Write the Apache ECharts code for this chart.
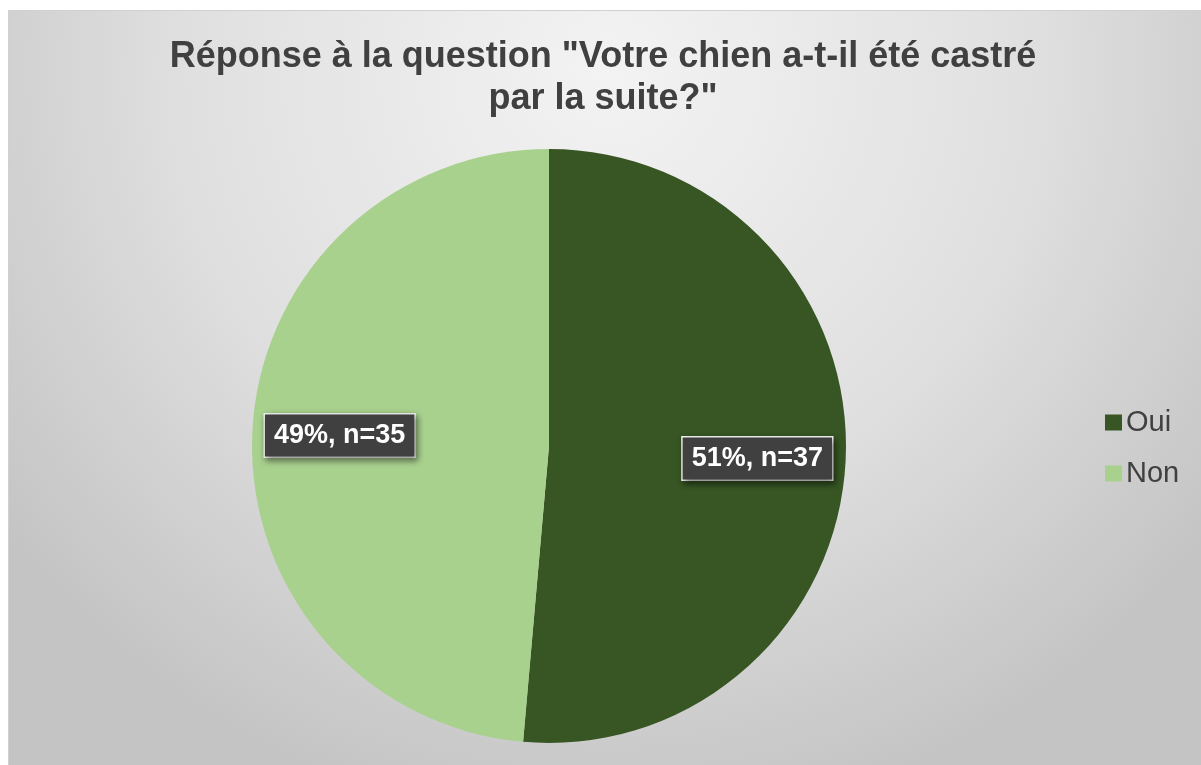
<!DOCTYPE html>
<html>
<head>
<meta charset="utf-8">
<script src="https://cdn.jsdelivr.net/npm/echarts@6/dist/echarts.min.js"></script>
<style>
html,body{margin:0;padding:0;background:#ffffff;}
#c{width:1201px;height:765px;}
</style>
</head>
<body>
<div id="c"></div>
<script>
const titleText = 'Réponse à la question "Votre chien a-t-il été castré\npar la suite?"';
const categories = ['Oui', 'Non'];
const counts = [37, 35];
const percents = [51, 49];
const colors = ['#375623', '#a9d18e'];

const chart = echarts.init(document.getElementById('c'));
const labelOffsets = [[57, 6], [-58, -4]];
chart.setOption({
  animation: false,
  graphic: [{
    type: 'rect', z: -10, silent: true,
    shape: {x: 8.5, y: 10.5, width: 1200, height: 760},
    style: {
      fill: new echarts.graphic.RadialGradient(0.5, 0.08, 1.0, [
        {offset: 0, color: '#f3f3f3'},
        {offset: 0.55, color: '#e0e0e0'},
        {offset: 1, color: '#c4c4c4'}
      ]),
      stroke: '#d0d0d0', lineWidth: 1
    }
  }],
  title: {
    text: titleText,
    left: 598, top: 31, textAlign: 'center',
    textStyle: {fontFamily: 'Liberation Sans', fontWeight: 'bold', fontSize: 36, color: '#404040', lineHeight: 42}
  },
  legend: {
    orient: 'vertical', left: 1100, top: 403,
    itemWidth: 17, itemHeight: 16, itemGap: 22,
    icon: 'rect',
    textStyle: {fontFamily: 'Liberation Sans', fontSize: 29, color: '#404040', padding: [0, 0, 0, -1]},
    data: categories
  },
  series: [{
    type: 'pie',
    center: [549, 446],
    radius: [0, 297],
    startAngle: 90,
    clockwise: true,
    label: {show: false},
    labelLine: {show: false},
    data: categories.map((c, i) => ({
      name: c, value: counts[i],
      itemStyle: {color: colors[i]},
      label: {
        show: true, position: 'inside',
        offset: labelOffsets[i],
        formatter: percents[i] + '%, n=' + counts[i],
        fontFamily: 'Liberation Sans', fontWeight: 'bold', fontSize: 27, color: '#ffffff',
        backgroundColor: '#404040', borderColor: '#f2f2f2', borderWidth: 1.5,
        padding: [8, 9, 7, 9],
        shadowColor: 'rgba(0,0,0,0.45)', shadowBlur: 6, shadowOffsetX: 2, shadowOffsetY: 3
      }
    }))
  }]
});
</script>
</body>
</html>
